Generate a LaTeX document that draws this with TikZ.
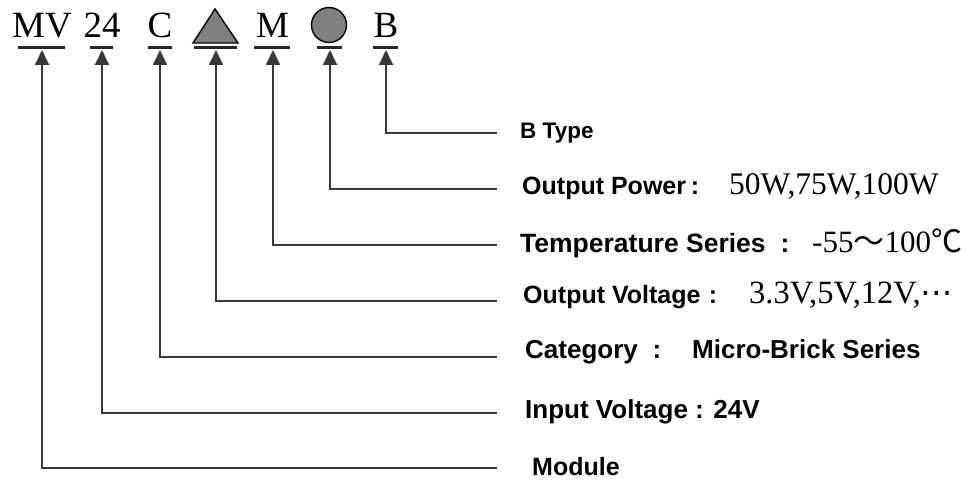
\documentclass[tikz,border=0pt]{standalone}
\usepackage{fontspec}
\setmainfont{Liberation Serif}
\newfontfamily\lsans{Liberation Sans}
\newfontfamily\cjk{Noto Sans CJK SC}
\newfontfamily\dvs{DejaVu Sans}
\usetikzlibrary{arrows.meta}
\begin{document}
\begin{tikzpicture}[x=1pt,y=-1pt,
  sym/.style={font=\fontsize{37}{37}\selectfont, inner sep=0pt, anchor=base},
  lbl/.style={font=\lsans\bfseries\fontsize{#1}{#1}\selectfont, inner sep=0pt, anchor=base west},
  val/.style={font=\fontsize{#1}{#1}\selectfont, inner sep=0pt, anchor=base west},
  bar/.style={line width=2.4pt, draw=black!85},
  conn/.style={line width=1.8pt, draw=black!78, -{Triangle[length=15pt,width=14pt]}},
  shapefill/.style={draw=black, line width=1.4pt, fill=black!50}
]
\useasboundingbox (0,0) rectangle (966,481);

% top code symbols
\node[sym] (mv) at (42,38) {MV};
\node[sym] (n24) at (102,38) {24};
\node[sym] (c) at (160,38) {C};
\draw[shapefill] (215,9) -- (238,43) -- (193,43) -- cycle;
\coordinate (tri) at (215,30);
\node[sym] (m) at (272.5,38) {M};
\node[circle, shapefill, minimum size=35pt, inner sep=0pt] (circ) at (329,25) {};
\node[sym] (b) at (386,38) {B};

% underline bars
\draw[bar] (18,47.5) -- (65,47.5);
\draw[bar] (90,47.5) -- (113,47.5);
\draw[bar] (148,47.5) -- (172,47.5);
\draw[bar] (194,47.5) -- (237,47.5);
\draw[bar] (254,47.5) -- (290,47.5);
\draw[bar] (317,47.5) -- (342,47.5);
\draw[bar] (373,47.5) -- (398,47.5);

% arrow tips
\coordinate (tMV) at (42,50);
\coordinate (t24) at (102,50);
\coordinate (tC) at (160,50);
\coordinate (tT) at (216,50);
\coordinate (tM) at (273,50);
\coordinate (tO) at (330,50);
\coordinate (tB) at (386,50);

% free ends of connectors
\coordinate (eB) at (497,133);
\coordinate (eOP) at (497,189);
\coordinate (eT) at (497,245);
\coordinate (eOV) at (497,301);
\coordinate (eC) at (497,357);
\coordinate (eI) at (497,413);
\coordinate (eM) at (497,468);

\draw[conn] (eB) -| (tB);
\draw[conn] (eOP) -| (tO);
\draw[conn] (eT) -| (tM);
\draw[conn] (eOV) -| (tT);
\draw[conn] (eC) -| (tC);
\draw[conn] (eI) -| (t24);
\draw[conn] (eM) -| (tMV);

% labels
\node[lbl=22.5] (lB) at (520,139) {B Type};

\node[lbl=25] (lOP) at (522,195) {Output Power};
\node[lbl=25, anchor=base] (cOP) at (695,195) {:};
\node[val=31.5] (vOP) at (729,195) {50W,75W,100W};

\node[lbl=26.5] (lT) at (520,252) {Temperature Series};
\node[lbl=26.5, anchor=base] (cT) at (785,252) {:};
\node[val=31] (vT) at (812,252) {-55{\cjk ～}100{\cjk ℃}};

\node[lbl=25] (lOV) at (523,303) {Output Voltage};
\node[lbl=25, anchor=base] (cOV) at (713,303) {:};
\node[val=32.5] (vOV) at (749,303) {3.3V,5V,12V,{\dvs ⋯}};

\node[lbl=26] (lC) at (525,358) {Category};
\node[lbl=26, anchor=base] (cC) at (657,358) {:};
\node[lbl=26] (vC) at (692,358) {Micro-Brick Series};

\node[lbl=26] (lI) at (525,418) {Input Voltage : 24V};

\node[lbl=25] (lM) at (532,475) {Module};
\end{tikzpicture}
\end{document}
